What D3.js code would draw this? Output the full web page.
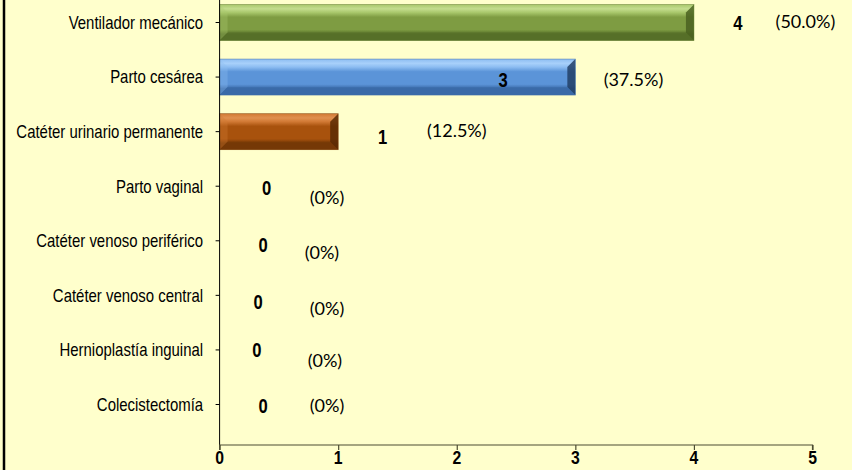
<!DOCTYPE html>
<html><head><meta charset="utf-8">
<script src="https://cdn.jsdelivr.net/npm/d3@7"></script>
<style>
html,body{margin:0;padding:0;background:#ffffcc;}
svg{display:block;}
</style></head>
<body>
<svg id="chart" width="852" height="470"></svg>
<script>
// ---- data ----
const categories = ["Ventilador mecánico","Parto cesárea","Catéter urinario permanente","Parto vaginal ","Catéter venoso periférico","Catéter venoso central","Hernioplastía inguinal","Colecistectomía "];
const values = [4,3,1,0,0,0,0,0];
const percentLabels = ["(50.0%)","(37.5%)","(12.5%)","(0%)","(0%)","(0%)","(0%)","(0%)"];
const xTicks = [0,1,2,3,4,5];
const barColors = ["green","blue","orange",null,null,null,null,null];
// hand-placed data-label anchors (in value units) and vertical nudges (px)
const numLabelAt = [4.37,2.39,1.375,0.397,0.366,0.324,0.315,0.368];
const numLabelDy = [0.5,3,5.5,2,4.5,7,0.5,1];
const pctLabelAt = [4.94,3.49,2.0,0.906,0.863,0.906,0.888,0.906];
const pctLabelDy = [-0.5,3,-0.5,11,11.5,13,10.5,1];

const palettes = {
  green:{base:"#7e9c42",top:"#a9c86c",hi:"#c4dd8e",bottom:"#566f28",end:"#4a6120",edge:"#5e7a2c"},
  blue:{base:"#5b94d8",top:"#8dbdf2",hi:"#a8d0fa",bottom:"#3a6aa8",end:"#223f66",edge:"#3c6dab"},
  orange:{base:"#a8520d",top:"#d27a35",hi:"#e09050",bottom:"#753806",end:"#5a2a04",edge:"#7c3d08"}
};
const NARROW = "'Liberation Sans Narrow','Arial Narrow','Liberation Sans',Arial,sans-serif";
const SQ = 0.83;

const svg = d3.select("#chart");
const x = d3.scaleLinear().domain([0,5]).range([219.6,812.5]);
const y = d3.scalePoint().domain(categories).range([22.5,404.5]);
const axisY = 445;
const barH = 36;

svg.append("rect").attr("width",852).attr("height",470).attr("fill","#ffffcc");
svg.append("line").attr("x1",4).attr("x2",4).attr("y1",0).attr("y2",470).attr("stroke","#000").attr("stroke-width",2.5);

function narrowText(sel, px, py, txt, anchor, size, weight){
  return sel.append("text").attr("transform",`translate(${px},${py}) scale(${SQ},1)`)
    .attr("dy","0.35em").attr("text-anchor",anchor)
    .attr("font-family",NARROW).attr("font-size",size).attr("font-weight",weight||"normal").attr("fill","#000").text(txt);
}

// defs gradients
const defs = svg.append("defs");
Object.entries(palettes).forEach(([k,p])=>{
  const g = defs.append("linearGradient").attr("id","g_"+k).attr("x1",0).attr("x2",0).attr("y1",0).attr("y2",1);
  [[0,p.top],[0.12,p.hi],[0.22,p.top],[0.35,p.base],[0.7,p.base],[0.82,p.bottom],[1,p.bottom]].forEach(([o,c])=>g.append("stop").attr("offset",o).attr("stop-color",c));
});

// bars
const bars = svg.append("g");
categories.forEach((c,i)=>{
  const v = values[i];
  if(!v) return;
  const p = palettes[barColors[i]];
  const x0 = x(0), x1 = x(v), y0 = y(c)-barH/2, y1 = y(c)+barH/2;
  const b = 8;
  const g = bars.append("g");
  g.append("rect").attr("x",x0).attr("y",y0).attr("width",x1-x0).attr("height",barH).attr("fill","url(#g_"+barColors[i]+")");
  g.append("path").attr("d",`M${x1-b},${y0+b}L${x1},${y0}L${x1},${y1}L${x1-b},${y1-b}Z`).attr("fill",p.end).attr("opacity",0.85);
  g.append("path").attr("d",`M${x0},${y0}L${x0+b},${y0+b}L${x0+b},${y1-b}L${x0},${y1}Z`).attr("fill",p.top).attr("opacity",0.35);
  g.append("path").attr("d",`M${x0},${y1}L${x0+b},${y1-b}L${x1-b},${y1-b}L${x1},${y1}Z`).attr("fill",p.bottom).attr("opacity",0.6);
  g.append("rect").attr("x",x0).attr("y",y0).attr("width",x1-x0).attr("height",barH).attr("fill","none").attr("stroke",p.edge).attr("stroke-width",0.8).attr("opacity",0.6);
});

// y axis
const yAxis = svg.append("g").attr("transform",`translate(${x(0)},0)`);
yAxis.append("line").attr("x1",0).attr("x2",0).attr("y1",0).attr("y2",axisY).attr("stroke","#000").attr("stroke-width",1);
categories.forEach(c=>{
  yAxis.append("line").attr("x1",-4).attr("x2",0).attr("y1",y(c)).attr("y2",y(c)).attr("stroke","#000");
  narrowText(yAxis, -16.5, y(c), c, "end", 18);
});

// x axis
const xAxis = svg.append("g").attr("transform",`translate(0,${axisY})`)
  .call(d3.axisBottom(x).tickValues(xTicks).tickFormat("").tickSize(5));
xAxis.select(".domain").attr("stroke","#4d4d33").attr("stroke-width",1.2).attr("d",`M${x(0)},5V0H${x(5)}V5`);
xAxis.selectAll(".tick line").attr("stroke","#4d4d33").attr("stroke-width",1.2);
xTicks.forEach(t=>narrowText(xAxis, x(t), 12, d3.format("d")(t), "middle", 19, "bold"));

// data labels
const labels = svg.append("g");
categories.forEach((c,i)=>{
  narrowText(labels, x(numLabelAt[i]), y(c)+numLabelDy[i], values[i], "middle", 20, "bold");
  labels.append("text").attr("x",x(pctLabelAt[i])).attr("y",y(c)+pctLabelDy[i]).attr("dy","0.35em").attr("text-anchor","middle")
    .attr("font-family","Lato,'Open Sans',sans-serif").attr("font-size",18).attr("fill","#000").text(percentLabels[i]);
});
</script>
</body></html>
